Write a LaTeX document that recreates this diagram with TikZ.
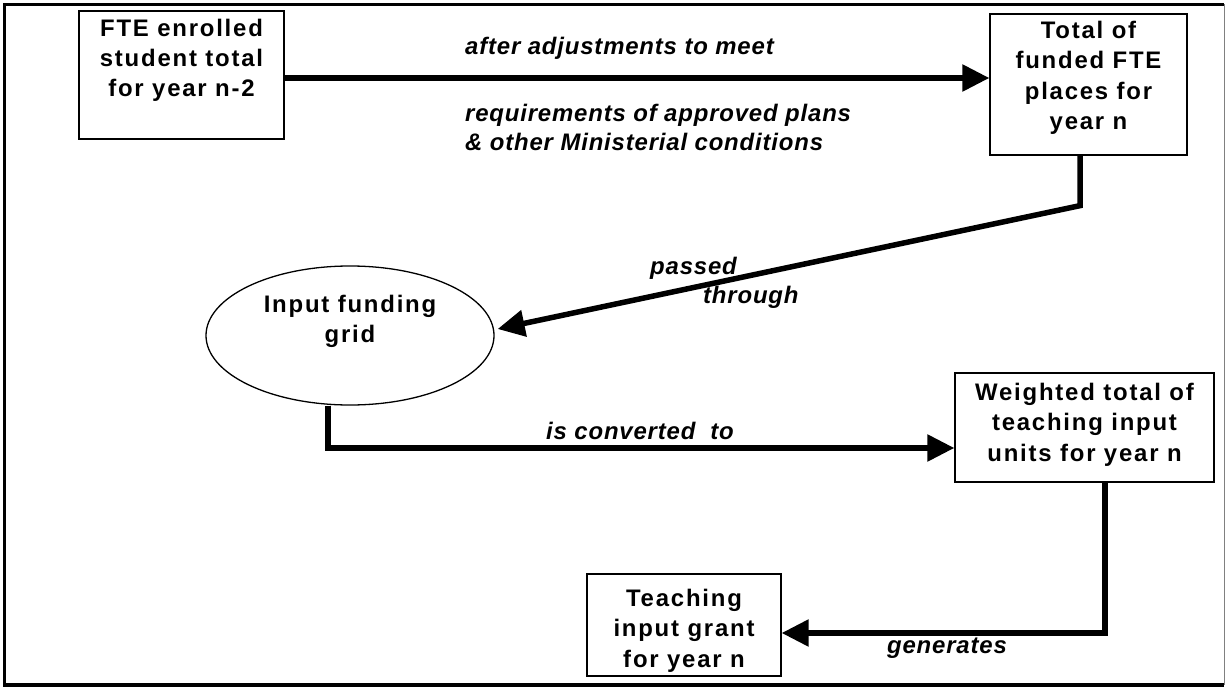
\documentclass[tikz,border=0pt]{standalone}
\usepackage{fontspec}
\setmainfont{Liberation Sans}
\newfontfamily\boxfont{Liberation Sans}[LetterSpace=7.5]
\newfontfamily\labfont{Liberation Sans}[LetterSpace=3.5]
\usetikzlibrary{arrows.meta,shapes.geometric}
\begin{document}
\begin{tikzpicture}[x=1bp,y=-1bp,
  box/.style={draw,line width=1.3bp,inner sep=0pt},
  btxt/.style={inner sep=0pt,anchor=north,align=center,font=\boxfont\bfseries\fontsize{24}{30.5}\selectfont},
  lab/.style={inner sep=0pt,font=\labfont\bfseries\itshape\fontsize{24}{29}\selectfont},
  conn/.style={line width=5.5bp,-{Triangle[length=27bp,width=26bp]}}]
\useasboundingbox (0,0) rectangle (1225,687);
% frame
\draw[line width=3.5bp] (1224,4.5) -- (4.5,4.5) -- (4.5,685) -- (1224,685);
\draw[gray,line width=1bp] (1224,4.5) -- (1224,685);
% boxes
\node[box,minimum width=205bp,minimum height=128bp] (b1) at (181.5,75) {};
\node[btxt] (t1) at (181.5,18.5) {FTE enrolled\\student total\\for year n-2};
\node[box,minimum width=197bp,minimum height=141bp] (b2) at (1088.5,84.5) {};
\node[btxt] (t2) at (1088.5,21) {Total of\\funded FTE\\places for\\year n};
\node[draw,ellipse,line width=1.3bp,inner sep=0pt,minimum width=288bp,minimum height=139bp] (ell) at (350,335.5) {};
\node[btxt] (te) at (350,295) {Input funding\\grid};
\node[box,minimum width=259bp,minimum height=109bp] (b3) at (1084.5,427.5) {};
\node[btxt] (t3) at (1084.5,383) {Weighted total of\\teaching input\\units for year n};
\node[box,minimum width=194bp,minimum height=102bp] (b4) at (684,625) {};
\node[btxt] (t4) at (684,589) {Teaching\\input grant\\for year n};
% connectors
\draw[conn] ([yshift=-3bp]b1.east) -- ([yshift=-3bp]b1.east -| b2.west);
\draw[conn] ([xshift=-8.5bp]b2.south) -- ++(0,50) -- ([xshift=3bp,yshift=6.5bp]ell.east);
\draw[conn] ([xshift=-22bp]ell.south) |- ([yshift=-20.5bp]b3.west);
\draw[conn] ([xshift=20.5bp]b3.south) |- ([yshift=-8bp]b4.east);
% labels
\node[lab,anchor=west] (l1) at (465,48) {after adjustments to meet};
\node[lab,anchor=west,align=left] (l2) at (465,127.5) {requirements of approved plans\\\& other Ministerial conditions};
\node[lab,anchor=west] (l3a) at (650,268) {passed};
\node[lab,anchor=west] (l3b) at (703,297) {through};
\node[lab] (l4) at (640,431) {is converted\ \ to};
\node[lab] (l5) at (947,648) {generates};
\end{tikzpicture}
\end{document}
